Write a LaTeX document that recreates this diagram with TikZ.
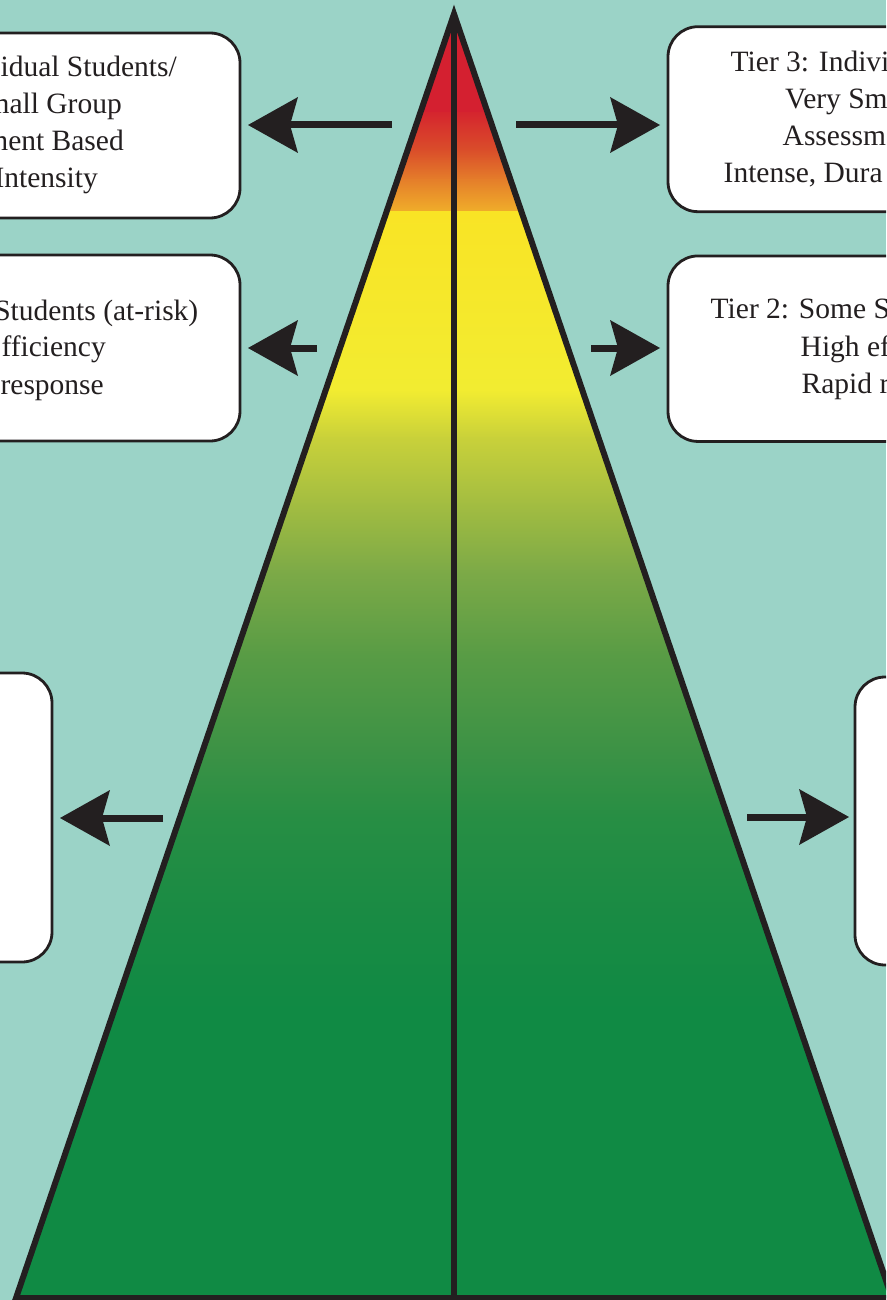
\documentclass[tikz,border=0pt]{standalone}
\usepackage{fontspec}
\setmainfont{Liberation Serif}[Ligatures=CommonOff]
\usetikzlibrary{arrows.meta}
\definecolor{bg}{HTML}{9BD3C7}
\definecolor{ink}{HTML}{231F20}
\definecolor{g0}{HTML}{D42030}
\definecolor{g1}{HTML}{D5262E}
\definecolor{g2}{HTML}{DA4E2A}
\definecolor{g3}{HTML}{E57F2A}
\definecolor{g4}{HTML}{F0AE2A}
\definecolor{g5}{HTML}{F9E425}
\definecolor{g6}{HTML}{F2EC31}
\definecolor{g7}{HTML}{C9D13A}
\definecolor{g8}{HTML}{A3BD41}
\definecolor{g9}{HTML}{7DAA47}
\definecolor{g10}{HTML}{599C45}
\definecolor{g11}{HTML}{3C9245}
\definecolor{g12}{HTML}{278E44}
\definecolor{g13}{HTML}{198B44}
\definecolor{g14}{HTML}{108A44}
\tikzset{
  box/.style={draw=ink, line width=2.8pt, fill=white, rounded corners=30pt, inner sep=0pt},
  txt/.style={inner sep=0pt, text=ink, font=\fontsize{29.5}{37}\selectfont},
  arr/.style={draw=ink, line width=7pt, -{Stealth[length=50pt,width=56pt,inset=8pt,line width=0pt]}},
  edge/.style={draw=ink, line width=6pt, line join=miter}
}
\newcommand{\band}[4]{\shade[top color=#3,bottom color=#4] (-10,#1) rectangle (900,#2+1);}
\begin{document}
\begin{tikzpicture}[x=1pt,y=-1pt]
\useasboundingbox (0,0) rectangle (886,1300);
\begin{scope}
\clip (0,0) rectangle (886,1300);
\fill[bg] (0,0) rectangle (886,1300);
% triangle corners
\coordinate (apex) at (454,14);
\coordinate (bl) at (16,1298);
\coordinate (br) at (892,1298);
\coordinate (bm) at (454,1298);
% gradient fill
\begin{scope}
\clip (apex) -- (bl) -- (br) -- cycle;
\fill[g0] (-10,0) rectangle (900,114);
\band{113}{150}{g1}{g2}
\band{150}{180}{g2}{g3}
\band{180}{211}{g3}{g4}
\band{211}{390}{g5}{g6}
\band{390}{437}{g6}{g7}
\band{437}{503}{g7}{g8}
\band{503}{570}{g8}{g9}
\band{570}{653}{g9}{g10}
\band{653}{750}{g10}{g11}
\band{750}{817}{g11}{g12}
\band{817}{917}{g12}{g13}
\band{917}{1010}{g13}{g14}
\fill[g14] (-10,1010) rectangle (900,1310);
\end{scope}
\draw[edge] (apex) -- (bl) -- (br) -- cycle;
\draw[edge] (apex) -- (bm);
% boxes
\node[box, minimum width=460pt, minimum height=185pt] (L1) at (10,125.5) {};
\node[box, minimum width=460pt, minimum height=186pt] (L2) at (10,348) {};
\node[box, minimum width=262pt, minimum height=289pt] (L3) at (-79,817.5) {};
\node[box, minimum width=442pt, minimum height=185pt] (R1) at (889,119.2) {};
\node[box, minimum width=442pt, minimum height=185.5pt] (R2) at (889,348.7) {};
\node[box, minimum width=255pt, minimum height=288pt] (R3) at (982.5,821) {};
% texts left
\node[txt, anchor=base east] (l1a) at (177,76.7) {idual Students/};
\node[txt, anchor=base east] (l1b) at (122,113.3) {mall Group};
\node[txt, anchor=base east] (l1c) at (124,150.7) {ment Based};
\node[txt, anchor=base east] (l1d) at (98,187.3) {Intensity};
\node[txt, anchor=base east] (l2a) at (198.5,320) {Students (at-risk)};
\node[txt, anchor=base east] (l2b) at (106,356.7) {fficiency};
\node[txt, anchor=base east] (l2c) at (104,394) {response};
% texts right
\node[txt, anchor=base west] (r1a) at (730.5,71.7) {Tier 3: Indivi};
\node[txt, anchor=base west] (r1b) at (785,108.3) {Very Sm};
\node[txt, anchor=base west] (r1c) at (782.5,145.7) {Assessm};
\node[txt, anchor=base west] (r1d) at (723.5,182.3) {Intense, Dura};
\node[txt, anchor=base west] (r2a) at (710.5,318.3) {Tier 2: Some S};
\node[txt, anchor=base west] (r2b) at (800.5,356) {High ef};
\node[txt, anchor=base west] (r2c) at (801.5,393.3) {Rapid r};
% arrows
\coordinate (a1s) at (392,125); \coordinate (a1e) at (248,125);
\coordinate (a2s) at (317,348); \coordinate (a2e) at (248,348);
\coordinate (a3s) at (516,125); \coordinate (a3e) at (660,125);
\coordinate (a4s) at (591,348); \coordinate (a4e) at (660,348);
\coordinate (a5s) at (163,818); \coordinate (a5e) at (60,818);
\coordinate (a6s) at (747,817); \coordinate (a6e) at (849,817);
\draw[arr] (a1s) -- (a1e);
\draw[arr] (a2s) -- (a2e);
\draw[arr] (a3s) -- (a3e);
\draw[arr] (a4s) -- (a4e);
\draw[arr] (a5s) -- (a5e);
\draw[arr] (a6s) -- (a6e);
\end{scope}
\end{tikzpicture}
\end{document}
